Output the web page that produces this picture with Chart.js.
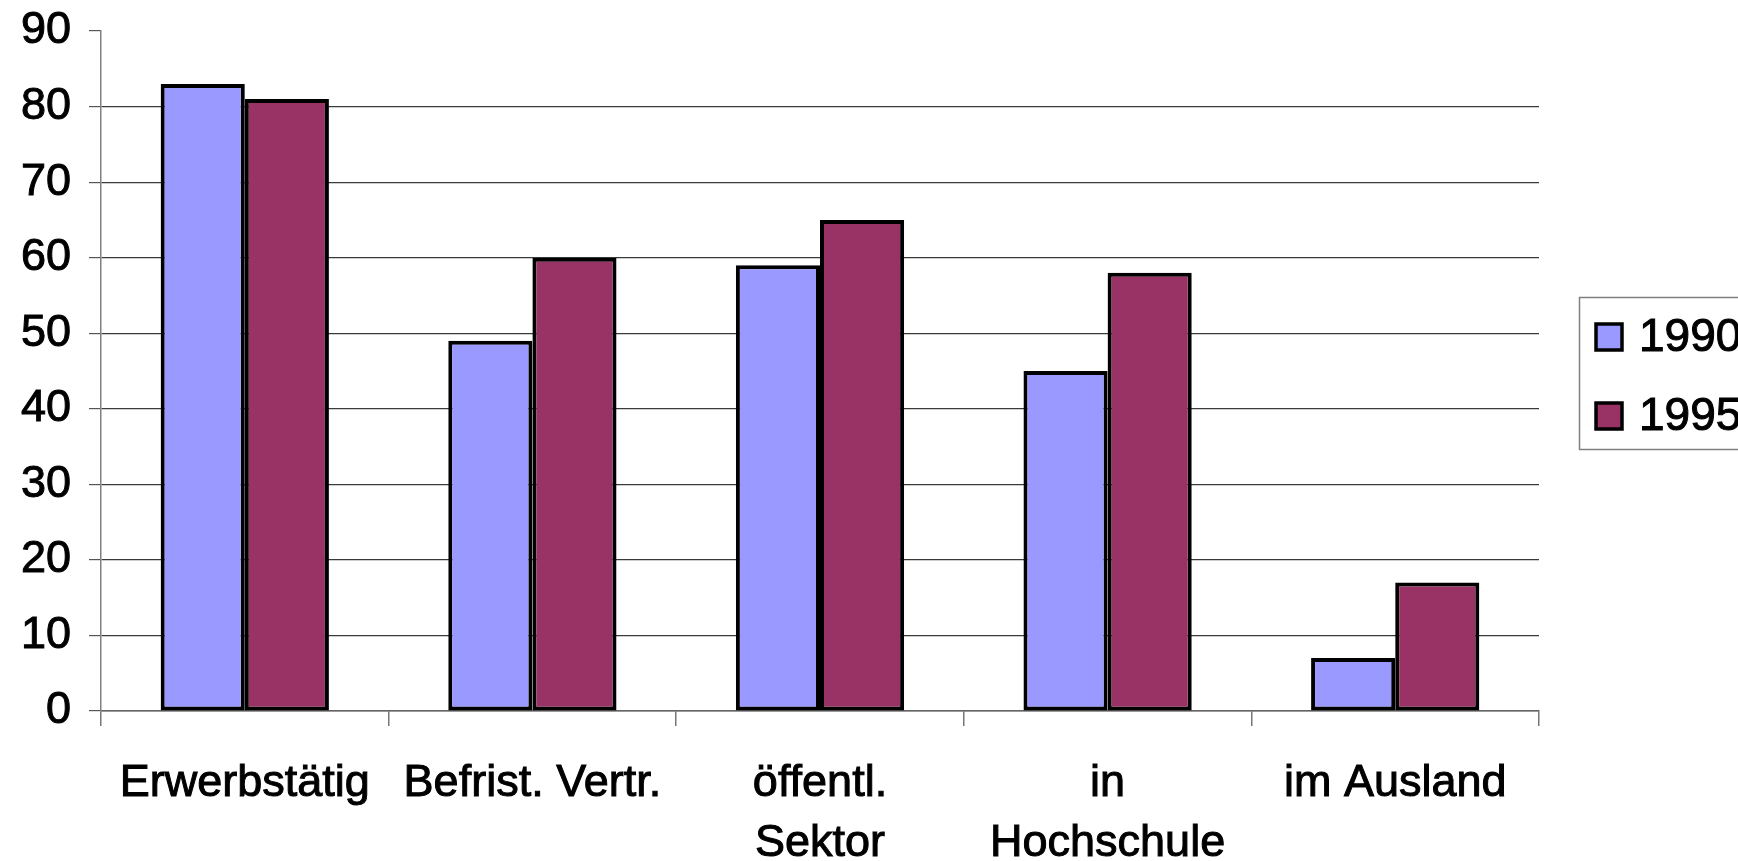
<!DOCTYPE html>
<html>
<head>
<meta charset="utf-8">
<script src="https://cdn.jsdelivr.net/npm/chart.js@4.4.1/dist/chart.umd.min.js"></script>
<style>
  html, body { margin: 0; padding: 0; background: #fff; }
  #wrap { width: 1738px; height: 861px; }
</style>
</head>
<body>
<div id="wrap"><canvas id="chart" width="1738" height="861"></canvas></div>
<script>
// data
const categories = ['Erwerbstätig', 'Befrist. Vertr.', ['öffentl.', 'Sektor'], ['in', 'Hochschule'], 'im Ausland']
const seriesNames = ['1990', '1995']
const values1990 = [83, 49, 59, 45, 7]
const values1995 = [81, 60, 65, 58, 17]
const seriesColors = ['#9999FF', '#993366']

const FONT = '"Liberation Sans", Arial, sans-serif'

// box legend on the right, like the original spreadsheet chart
const boxLegend = {
  id: 'boxLegend',
  afterDraw(chart) {
    const ctx = chart.ctx
    ctx.save()
    ctx.strokeStyle = '#808080'
    ctx.lineWidth = 1.5
    ctx.strokeRect(1579.5, 297.5, 200, 152)
    chart.data.datasets.forEach((ds, i) => {
      const cy = 337 + i * 79
      ctx.fillStyle = ds.backgroundColor
      ctx.fillRect(1596, cy - 13, 26, 26)
      ctx.strokeStyle = '#000'
      ctx.lineWidth = 3.5
      ctx.strokeRect(1596, cy - 13, 26, 26)
      ctx.fillStyle = '#000'
      ctx.font = '46px ' + FONT
      ctx.textBaseline = 'middle'
      ctx.lineWidth = 1
      ctx.fillText(ds.label, 1639, cy + 1)
      ctx.strokeText(ds.label, 1639, cy + 1)
    })
    ctx.restore()
  }
}

new Chart(document.getElementById('chart'), {
  type: 'bar',
  data: {
    labels: categories,
    datasets: [
      { label: seriesNames[0], data: values1990, backgroundColor: seriesColors[0] },
      { label: seriesNames[1], data: values1995, backgroundColor: seriesColors[1] }
    ]
  },
  options: {
    responsive: false,
    animation: false,
    devicePixelRatio: 1,
    layout: { padding: { top: 31, right: 199, left: 0, bottom: 0 } },
    datasets: {
      bar: {
        borderColor: '#000',
        borderWidth: 4,
        borderSkipped: false,
        categoryPercentage: 0.585,
        barPercentage: 1.0
      }
    },
    plugins: {
      legend: { display: false },
      tooltip: { enabled: false },
      title: { display: false }
    },
    scales: {
      x: {
        afterFit(scale) { scale.height = 150 },
        grid: {
          offset: true,
          drawOnChartArea: false,
          tickLength: 15,
          color: '#777',
          lineWidth: 1.5
        },
        border: { color: '#666', width: 1.5 },
        ticks: {
          color: '#000',
          textStrokeColor: '#000',
          textStrokeWidth: 1,
          padding: 28,
          maxRotation: 0,
          autoSkip: false,
          font: { family: FONT, size: 45, lineHeight: 1.33 }
        }
      },
      y: {
        min: 0,
        max: 90,
        afterFit(scale) {
          scale.width = 101
          // let the top label hang over the plot edge instead of pushing it down
          scale.paddingTop = 0
          scale.paddingBottom = 0
        },
        grid: {
          tickLength: 12,
          color: ctx => (ctx.tick && ctx.tick.value === 90) ? 'rgba(0,0,0,0)' : '#3a3a3a',
          tickColor: '#555',
          lineWidth: 1.2
        },
        border: { color: '#808080', width: 1.5 },
        ticks: {
          stepSize: 10,
          color: '#000',
          textStrokeColor: '#000',
          textStrokeWidth: 1,
          padding: 18,
          font: { family: FONT, size: 45 }
        }
      }
    }
  },
  plugins: [boxLegend]
})
</script>
</body>
</html>
